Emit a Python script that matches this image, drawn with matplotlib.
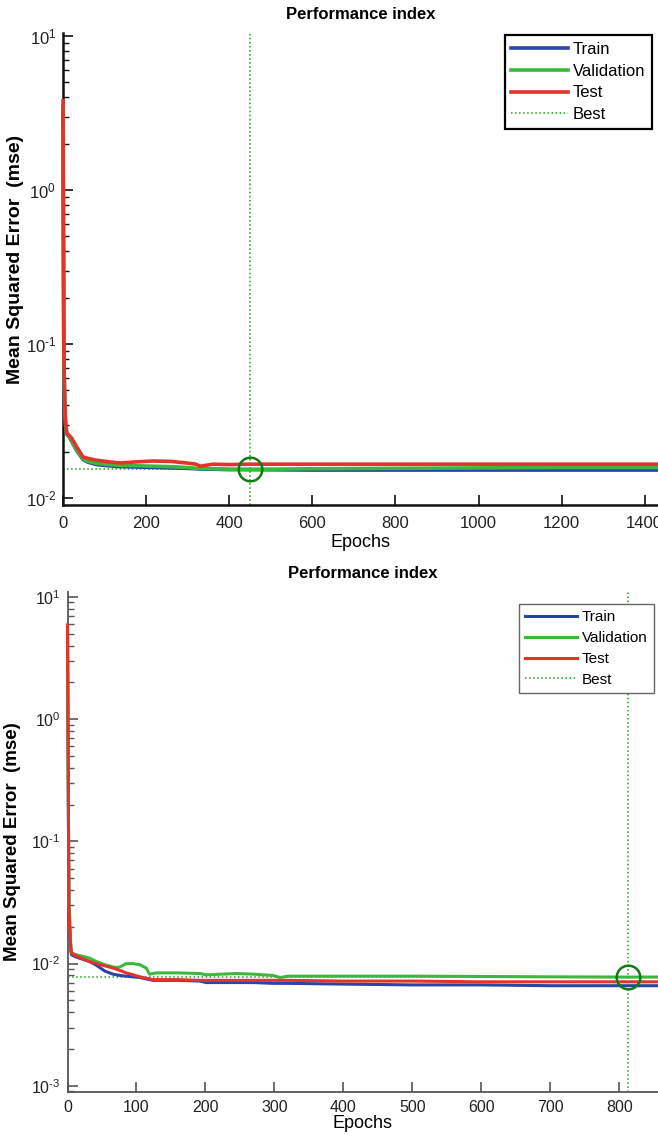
import numpy as np
import matplotlib
matplotlib.use("Agg")
import matplotlib.pyplot as plt
from matplotlib.ticker import LogLocator, NullFormatter, FuncFormatter

plt.rcParams["font.family"] = ["Liberation Sans", "DejaVu Sans"]
plt.rcParams["mathtext.fontset"] = "custom"
plt.rcParams["mathtext.rm"] = "Liberation Sans"
plt.rcParams["mathtext.it"] = "Liberation Sans:italic"
plt.rcParams["mathtext.bf"] = "Liberation Sans:bold"

# ---- top panel data ----
ep1 = [0, 1, 2, 4, 6, 9, 15, 21, 33, 48, 60, 81, 110, 137, 180, 217, 260, 297,
       320, 330, 361, 400, 450, 600, 800, 1000, 1200, 1440]
train1 = [3.4, 0.5, 0.08, 0.042, 0.03, 0.026, 0.025, 0.0233, 0.0203, 0.0178, 0.0171,
          0.0165, 0.0162, 0.016, 0.0159, 0.0158, 0.0157, 0.0156, 0.0155, 0.0154, 0.0154,
          0.0153, 0.0153, 0.0152, 0.0152, 0.0152, 0.0152, 0.0152]
val1 = [3.5, 0.5, 0.08, 0.042, 0.03, 0.026, 0.025, 0.0235, 0.0205, 0.018, 0.0173,
        0.0168, 0.0165, 0.0163, 0.0162, 0.0161, 0.016, 0.0158, 0.0156, 0.0155, 0.0155,
        0.0154, 0.01536, 0.0155, 0.0156, 0.0157, 0.0158, 0.0158]
test1 = [3.8, 0.6, 0.09, 0.045, 0.032, 0.0265, 0.0255, 0.0245, 0.0215, 0.0185, 0.0181,
         0.0176, 0.0172, 0.0169, 0.0172, 0.0174, 0.0173, 0.0169, 0.0166, 0.0161, 0.0166,
         0.0165, 0.0166, 0.0166, 0.0166, 0.0166, 0.0166, 0.0166]
best_ep1 = 450
best_val1 = 0.01536

# ---- bottom panel data ----
ep2 = [0, 1, 2, 3, 5, 6, 13, 32, 42, 54, 66, 71, 76, 85, 95, 105, 114, 119, 124,
       129, 160, 192, 201, 245, 270, 298, 308, 320, 400, 500, 600, 700, 812, 860]
train2 = [5.0, 0.4, 0.028, 0.02, 0.0125, 0.0118, 0.0113, 0.0104, 0.0097, 0.0087,
          0.0082, 0.0081, 0.008, 0.0079, 0.0078, 0.0077, 0.0075, 0.0074, 0.0073, 0.0073,
          0.0073, 0.0072, 0.007, 0.007, 0.007, 0.0069, 0.0069, 0.0069, 0.0068, 0.0067,
          0.0067, 0.0066, 0.0066, 0.0066]
val2 = [5.5, 0.4, 0.03, 0.025, 0.013, 0.0122, 0.0118, 0.0111, 0.0104, 0.0098, 0.0094,
        0.0093, 0.0094, 0.01, 0.01, 0.0098, 0.0092, 0.0082, 0.0083, 0.0084, 0.0084,
        0.0083, 0.0081, 0.0083, 0.0082, 0.008, 0.0077, 0.0079, 0.0079, 0.0079, 0.00785,
        0.0078, 0.00776, 0.00777]
test2 = [5.9, 0.5, 0.03, 0.02, 0.013, 0.0122, 0.0115, 0.0104, 0.01, 0.0096, 0.0092,
         0.009, 0.0088, 0.0084, 0.0081, 0.0078, 0.0076, 0.0075, 0.0074, 0.0074, 0.0074,
         0.0073, 0.0073, 0.0073, 0.0073, 0.0073, 0.0073, 0.0073, 0.0072, 0.0072, 0.0071,
         0.0071, 0.0071, 0.0071]
best_ep2 = 812
best_val2 = 0.00776

labels = ["Train", "Validation", "Test", "Best"]
c_train = "#2a45a8"
c_val = "#3cb83c"
c_test = "#e3332b"
c_best = "#1f9e1f"
c_circle = "#137a13"

fig = plt.figure(figsize=(6.58, 11.34), dpi=100)
W, H = 658, 1134


def make_ax(left, top, bottom):
    return fig.add_axes([left / W, 1 - bottom / H, 1 - left / W, (bottom - top) / H])


def pow_label(v, pos):
    e = int(round(np.log10(v)))
    if e < 0:
        return r"$10^{\text{-}%d}$" % (-e)
    return r"$10^{%d}$" % e


def panel(ax, ep, tr, va, te, bep, bval, xmax, ylims, xticks, lw, fs, spine_c, spine_w,
          leg_anchor, leg_edge, leg_lw, leg_fs, leg_sp, ylab_xy, ylab_fs, xpad, xlpad):
    ax.plot(ep, tr, color=c_train, lw=lw, label=labels[0], zorder=3, clip_on=False)
    ax.plot(ep, va, color=c_val, lw=lw, label=labels[1], zorder=3, clip_on=False)
    ax.plot(ep, te, color=c_test, lw=lw, label=labels[2], zorder=3, clip_on=False)
    ax.axvline(bep, color=c_best, ls=":", lw=1.1, label=labels[3], zorder=2)
    ax.axhline(bval, color=c_best, ls=":", lw=1.1, zorder=2)
    ax.plot([bep], [bval], "o", ms=17, mfc="none", mec=c_circle, mew=1.8, zorder=4)
    ax.set_yscale("log")
    ax.set_xlim(0, xmax)
    ax.set_ylim(*ylims)
    ax.set_xticks(xticks)
    ax.yaxis.set_major_locator(LogLocator(base=10, numticks=10))
    ax.yaxis.set_major_formatter(FuncFormatter(pow_label))
    ax.yaxis.set_minor_locator(LogLocator(base=10, subs=np.arange(2, 10), numticks=20))
    ax.yaxis.set_minor_formatter(NullFormatter())
    for s in ["top", "right"]:
        ax.spines[s].set_visible(False)
    for s in ["left", "bottom"]:
        ax.spines[s].set_color(spine_c)
        ax.spines[s].set_linewidth(spine_w)
    ax.tick_params(which="major", direction="in", length=7, width=1.2, colors=spine_c,
                   labelcolor="#222222", labelsize=fs)
    ax.tick_params(axis="x", pad=xpad)
    ax.tick_params(axis="y", pad=5)
    ax.tick_params(which="minor", direction="in", length=4, width=1, colors=spine_c)
    ax.set_title("Performance index", fontsize=12, fontweight="bold", pad=10)
    ax.set_xlabel("Epochs", fontsize=13, labelpad=xlpad)
    ax.set_ylabel("Mean Squared Error  (mse)", fontsize=ylab_fs, fontweight="bold")
    ax.yaxis.set_label_coords(*ylab_xy)
    leg = ax.legend(loc="upper right", bbox_to_anchor=leg_anchor, borderaxespad=0,
                    fontsize=leg_fs, handlelength=3.4, handletextpad=0.3, fancybox=False,
                    framealpha=1, edgecolor=leg_edge, borderpad=0.4, labelspacing=leg_sp)
    leg.get_frame().set_linewidth(leg_lw)
    leg.set_zorder(10)


ax1 = make_ax(63, 33, 505)
panel(ax1, ep1, train1, val1, test1, best_ep1, best_val1, 1432,
      (10 ** -2.045, 10 ** 1.02), [0, 200, 400, 600, 800, 1000, 1200, 1400],
      2.6, 12, "#111111", 1.8, (0.99, 0.995), "black", 1.6, 12, 0.4,
      (-0.066, 0.52), 14, 8, 2)

ax2 = make_ax(67.5, 592, 1092)
panel(ax2, ep2, train2, val2, test2, best_ep2, best_val2, 856,
      (10 ** -3.05, 10 ** 1.04), [0, 100, 200, 300, 400, 500, 600, 700, 800],
      2.2, 11.5, "#555555", 1.3, (0.993, 0.976), "#666666", 1.0, 11, 0.45,
      (-0.079, 0.5), 13.5, 6, 0)

fig.savefig("out.png", dpi=100)
